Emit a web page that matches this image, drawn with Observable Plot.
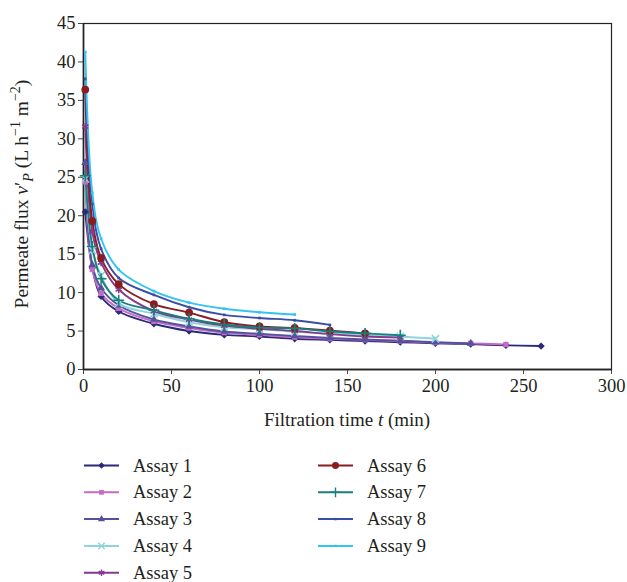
<!DOCTYPE html>
<html><head><meta charset="utf-8">
<script src="https://cdn.jsdelivr.net/npm/d3@7"></script>
<script src="https://cdn.jsdelivr.net/npm/@observablehq/plot@0.6"></script>
<style>
body{margin:0;background:#fff;font-family:"Liberation Serif",serif;}
#chart svg{display:block;}
</style>
</head><body><div id="chart"></div>
<script>
// ---- data ----
const times = [1, 5, 10, 20, 40, 60, 80, 100, 120, 140, 160, 180, 200, 220, 240, 260];
const assayNames = ["Assay 1","Assay 2","Assay 3","Assay 4","Assay 5","Assay 6","Assay 7","Assay 8","Assay 9"];
const assay1 = [20.5, 13.2, 9.5, 7.55, 5.95, 5.0, 4.5, 4.3, 4.0, 3.85, 3.7, 3.55, 3.4, 3.3, 3.15, 3.05];
const assay2 = [24.4, 13.0, 9.9, 7.95, 6.25, 5.4, 4.8, 4.5, 4.2, 4.0, 3.85, 3.7, 3.5, 3.4, 3.25];
const assay3 = [26.9, 13.6, 10.6, 8.35, 6.5, 5.6, 4.95, 4.65, 4.35, 4.1, 3.9, 3.75, 3.55, 3.4];
const assay4 = [24.8, 15.5, 12.2, 8.6, 7.25, 6.15, 5.5, 5.25, 4.9, 4.7, 4.5, 4.3, 4.0];
const assay5 = [31.6, 17.9, 13.9, 10.4, 7.6, 6.5, 5.7, 5.3, 5.0, 4.6, 4.3, 4.15];
const assay6 = [36.4, 19.3, 14.5, 11.1, 8.5, 7.4, 6.15, 5.6, 5.4, 5.05, 4.7];
const assay7 = [25.2, 16.0, 11.8, 9.0, 7.7, 6.6, 5.85, 5.45, 5.35, 4.95, 4.7, 4.45];
const assay8 = [37.8, 21.5, 15.7, 11.9, 9.7, 8.1, 7.1, 6.7, 6.4, 5.8];
const assay9 = [41.3, 23.0, 17.0, 13.0, 10.2, 8.7, 7.9, 7.45, 7.15];
const assayValues = [assay1, assay2, assay3, assay4, assay5, assay6, assay7, assay8, assay9];
const xTicks = [0, 50, 100, 150, 200, 250, 300];
const yTicks = [0, 5, 10, 15, 20, 25, 30, 35, 40, 45];

// ---- styles ----
const colors = ["#2b2a78","#c46cc4","#54529e","#8fd3db","#863a8e","#8a1c1f","#14817e","#3a4ea6","#35c4f0"];
const symbols = ["diamond2","square2","triangle2","times","asterisk","circle","plus","square2","square2"];
const sizes = [3.3, 3.4, 3.8, 3.4, 3.4, 3.9, 3.6, 1.7, 1.7];
const filled = [true, true, true, false, false, true, false, true, true];

const rows = [];
assayNames.forEach((name, i) => {
  assayValues[i].forEach((v, j) => rows.push({assay: name, idx: i, t: times[j], v}));
});

const W = 627, H = 440;
const marks = [
  Plot.ruleY([0], {stroke: "#555", strokeWidth: 1.8}),
  Plot.ruleX([0], {stroke: "#555", strokeWidth: 1.8}),
  Plot.frame({stroke: "#222", strokeWidth: 1.2})
];
assayNames.forEach((name, i) => {
  const d = rows.filter(r => r.idx === i);
  marks.push(Plot.line(d, {x: "t", y: "v", stroke: colors[i], strokeWidth: 1.9, curve: "catmull-rom"}));
});
assayNames.forEach((name, i) => {
  const d = rows.filter(r => r.idx === i);
  marks.push(Plot.dot(d, filled[i]
    ? {x: "t", y: "v", symbol: () => symbols[i], fill: colors[i], stroke: "none", r: sizes[i]}
    : {x: "t", y: "v", symbol: () => symbols[i], stroke: colors[i], strokeWidth: 1.6, fill: "none", r: sizes[i]}));
});

const chart = Plot.plot({
  width: W, height: H,
  marginLeft: 83, marginRight: 16, marginTop: 23, marginBottom: 71,
  style: {fontFamily: "'Liberation Serif', serif", fontSize: "18.5px", color: "#231f20", background: "#fff"},
  x: {domain: [0, 300], ticks: xTicks, tickSize: 5, tickPadding: 4, label: null},
  y: {domain: [0, 45], ticks: yTicks, tickSize: 5, tickPadding: 3, label: null},
  symbol: {type: "identity"},
  marks
});

const svg = d3.select(chart);
svg.selectAll("[aria-label='x-axis tick'], [aria-label='y-axis tick']").attr("stroke", "#444");

// y-axis label
const yl = svg.append("text")
  .attr("transform", "translate(28,194) rotate(-90)")
  .attr("text-anchor", "middle")
  .attr("font-size", 19.5).attr("fill", "#231f20");
yl.append("tspan").text("Permeate flux ");
yl.append("tspan").attr("font-style", "italic").text("v");
yl.append("tspan").text("′");
yl.append("tspan").attr("font-style", "italic").attr("font-size", 14).attr("dy", 5).text("P");
yl.append("tspan").attr("dy", -5).text(" (L h");
yl.append("tspan").attr("font-size", 14).attr("dy", -8).text("−1");
yl.append("tspan").attr("dy", 8).text(" m");
yl.append("tspan").attr("font-size", 14).attr("dy", -8).text("−2");
yl.append("tspan").attr("dy", 8).text(")");

// x-axis label
const xl = svg.append("text")
  .attr("x", 83 + (611 - 83) / 2).attr("y", 426)
  .attr("text-anchor", "middle")
  .attr("font-size", 19).attr("fill", "#231f20");
xl.append("tspan").text("Filtration time ");
xl.append("tspan").attr("font-style", "italic").text("t");
xl.append("tspan").text(" (min)");

document.getElementById("chart").appendChild(chart);

// ---- legend (below the plot) ----
const leg = d3.select("#chart").append("svg")
  .attr("width", W).attr("height", 582 - H)
  .style("font-family", "'Liberation Serif', serif");
const symGen = {
  "diamond2": d3.symbolDiamond2, "square2": d3.symbolSquare2, "triangle2": d3.symbolTriangle2,
  "times": d3.symbolTimes, "asterisk": d3.symbolAsterisk, "circle": d3.symbolCircle, "plus": d3.symbolPlus
};
assayNames.forEach((name, i) => {
  const col = i < 5 ? 0 : 1;
  const row = i < 5 ? i : i - 5;
  const x0 = col === 0 ? 84 : 318;
  const y = 25.5 + row * 26.8;
  const g = leg.append("g");
  g.append("line").attr("x1", x0).attr("x2", x0 + 35).attr("y1", y).attr("y2", y)
    .attr("stroke", colors[i]).attr("stroke-width", 2);
  const area = Math.PI * sizes[i] * sizes[i] * 0.8;
  g.append("path").attr("d", d3.symbol(symGen[symbols[i]], area)())
    .attr("transform", `translate(${x0 + 17.5},${y})`)
    .attr("fill", filled[i] ? colors[i] : "none")
    .attr("stroke", filled[i] ? "none" : colors[i]).attr("stroke-width", 1.4);
  g.append("text").attr("x", x0 + 49).attr("y", y + 6)
    .attr("font-size", 18.5).attr("fill", "#231f20").text(name);
});
</script>
</body></html>
